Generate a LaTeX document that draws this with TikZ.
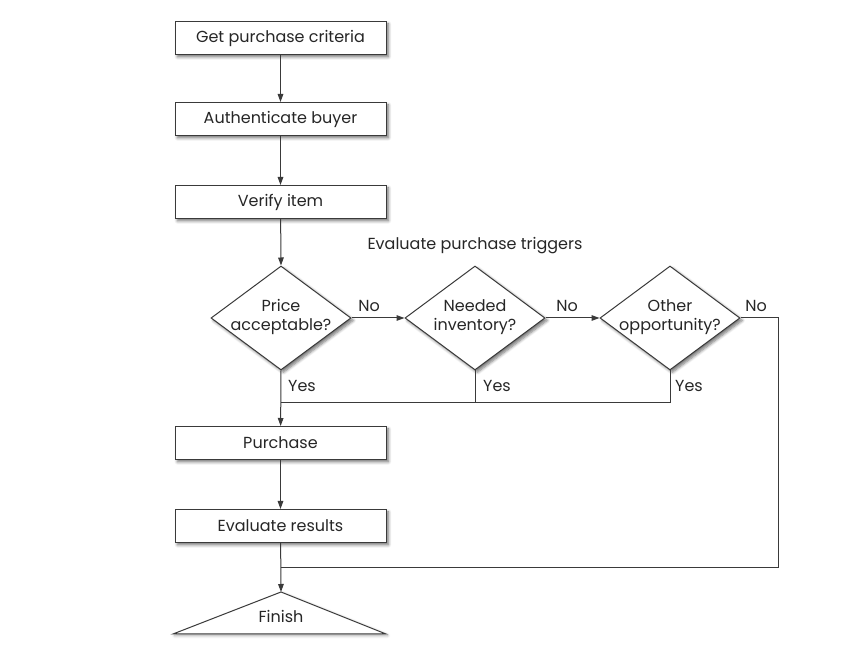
\documentclass[tikz,border=0pt]{standalone}
\usepackage{fontspec}
\setmainfont{Poppins}
\usetikzlibrary{shapes.geometric,shadows.blur,arrows.meta}

\definecolor{lineg}{HTML}{3A3A3A}
\tikzset{every picture/.style={line width=0.75pt}}
\tikzset{
  flowtext/.style={font=\fontsize{12}{14}\selectfont, text=black!85},
  stepbox/.style={draw=lineg, fill=white, flowtext, inner sep=0pt,
    minimum width=158.25pt, minimum height=24.75pt,
    blur shadow={shadow xshift=1.8pt, shadow yshift=-1.8pt, shadow blur steps=6, shadow opacity=55}},
  decide/.style={diamond, draw=lineg, fill=white, inner sep=0pt,
    minimum width=105pt, minimum height=78pt,
    blur shadow={shadow xshift=1.8pt, shadow yshift=-1.8pt, shadow blur steps=6, shadow opacity=55}},
  branch/.style={flowtext, inner sep=0.75pt},
  flow/.style={draw=lineg, -{Triangle[length=6pt,width=4.2pt]}},
  wire/.style={draw=lineg}
}

\begin{document}
\begin{tikzpicture}[x=0.75pt,y=0.75pt,yscale=-1,xscale=1]
\path[use as bounding box] (0,0) rectangle (847,648);

% boxes of the main column
\node [stepbox] (criteria) at (280.5,38) {Get purchase criteria};
\node [stepbox] (auth) at (280.5,119) {Authenticate buyer};
\node [stepbox] (verify) at (280.5,202) {Verify item};
\node [stepbox] (purchase) at (280.5,443) {Purchase};
\node [stepbox] (results) at (280.5,526) {Evaluate results};

% purchase triggers
\node [branch] (triggers) at (475,246) {Evaluate purchase triggers};
\node [decide, label={[flowtext, align=center, yshift=0.8pt]center:Price\\acceptable?}] (price) at (281,318) {};
\node [decide, label={[flowtext, align=center, yshift=0.8pt]center:Needed\\inventory?}] (needed) at (475,318) {};
\node [decide, label={[flowtext, align=center, yshift=0.8pt]center:Other\\opportunity?}] (other) at (670,318) {};

% finish
\coordinate (finish) at (281,592);
\draw [draw=lineg, fill=white, blur shadow={shadow xshift=1.2pt, shadow yshift=-1.2pt, shadow blur steps=6, shadow opacity=35}]
  (finish) -- (386,634) -- (173,634) -- cycle;
\node [flowtext] (finishtxt) at (281,616) {Finish};

% junctions
\coordinate (yesjoin) at (281,403);
\coordinate (nojoin) at (281,568);
\coordinate (nocorner) at (778,568);

% connectors
\draw [flow] (criteria) -- (auth);
\draw [flow] (auth) -- (verify);
\draw [flow] (verify) -- (price.north);
\draw [flow] (price.east) -- (needed.west);
\draw [flow] (needed.east) -- (other.west);
\draw [flow] (price.south) -- (purchase);
\draw [wire] (needed.south) -- (needed.south |- yesjoin);
\draw [wire] (other.south) |- (yesjoin);
\draw [wire] (other.east) -| (nocorner) -- (nojoin);
\draw [flow] (purchase) -- (results);
\draw [flow] (results) -- (finish);

% branch labels
\node [branch] (no1) at (369,306) {No};
\node [branch] (no2) at (567,306) {No};
\node [branch] (no3) at (756,306) {No};
\node [branch] (yes1) at (302,386) {Yes};
\node [branch] (yes2) at (497,386) {Yes};
\node [branch] (yes3) at (689,386) {Yes};

\end{tikzpicture}
\end{document}
